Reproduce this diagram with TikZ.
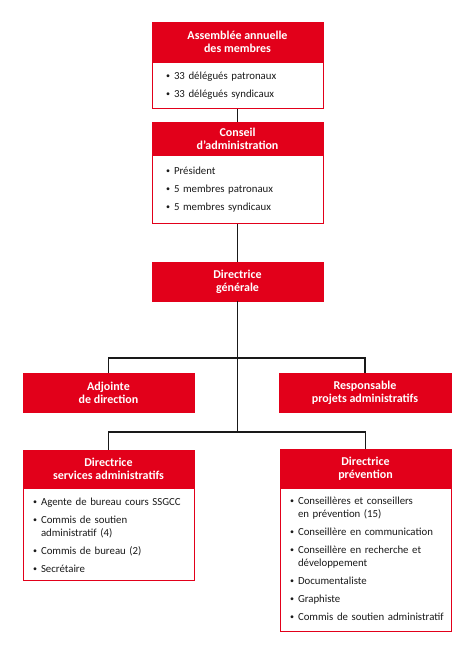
\documentclass[tikz,border=0pt]{standalone}
\usepackage{fontspec}
\setmainfont{Carlito}
\definecolor{orgred}{HTML}{E2001A}
\definecolor{txtgray}{HTML}{1A1A1A}
\newcommand{\smbul}{\makebox[8pt][l]{\raisebox{0.8pt}{\fontsize{8}{8}\selectfont\textbullet}}}
\newcommand{\bulA}[1]{\hyphenpenalty=10000\noindent\hangindent=8pt\hangafter=1\smbul#1}
\newcommand{\bul}[1]{\par\vspace{5pt}\noindent\hangindent=8pt\hangafter=1\smbul#1}
\begin{document}
\begin{tikzpicture}[x=1pt,y=-1pt,
  hdr/.style={fill=orgred,draw=orgred,line width=0.8pt,text=white,font=\fontsize{12}{13}\selectfont\bfseries,align=center,inner sep=0pt,minimum width=#1},
  hdr/.default=171pt,
  bodybox/.style={draw=orgred,line width=0.8pt,fill=white,text=txtgray,font=\fontsize{10.8}{13}\selectfont,align=left,inner ysep=0pt,inner xsep=14pt,text width=#1},
  bodybox/.default=143pt,
  conn/.style={draw=black!90,line width=1.5pt}]
\useasboundingbox (0,0) rectangle (474,656);
\fill[white] (0,0) rectangle (474,656);
% top boxes
\node[hdr,minimum height=40pt] (h1) at (237.5,42) {Assemblée annuelle\\des membres};
\node[bodybox,minimum height=46pt,anchor=north] (b1) at (h1.south) {\bulA{33 délégués patronaux}\bul{33 délégués syndicaux}};
\node[hdr,minimum height=33pt] (h2) at (237.5,138.5) {Conseil\\d’administration};
\node[bodybox,minimum height=68pt,anchor=north] (b2) at (h2.south) {\bulA{Président}\bul{5 membres patronaux}\bul{5 membres syndicaux}};
\node[hdr,minimum height=39pt] (dg) at (237.5,281.5) {Directrice\\générale};
% second level
\node[hdr=171pt,minimum height=39pt] (adj) at (108.5,392.5) {Adjointe\\de direction};
\node[hdr=172pt,minimum height=39pt] (resp) at (365,392.5) {Responsable\\projets administratifs};
% bottom boxes
\node[hdr=171pt,minimum height=38pt] (hl) at (108.5,469) {Directrice\\services administratifs};
\node[bodybox=151pt,inner xsep=10pt,minimum height=92pt,anchor=north] (bl) at (hl.south) {\bulA{Agente de bureau cours SSGCC}\bul{Commis de soutien\newline administratif (4)}\bul{Commis de bureau (2)}\bul{Secrétaire}};
\node[hdr=171pt,minimum height=39pt] (hr) at (365.5,468.5) {Directrice\\prévention};
\node[bodybox=151pt,inner xsep=10pt,minimum height=143pt,anchor=north] (br) at (hr.south) {\bulA{Conseillères et conseillers\newline en prévention (15)}\bul{Conseillère en communication}\bul{Conseillère en recherche et\newline développement}\bul{Documentaliste}\bul{Graphiste}\bul{\mbox{Commis de soutien administratif}}\vspace{4pt}};
% connectors
\coordinate (j1) at (237.5,358);
\coordinate (j2) at (237.5,432);
\draw[conn] (b1.south) -- (h2.north);
\draw[conn] (b2.south) -- (dg.north);
\draw[conn] (dg.south) -- (j2);
\draw[conn] (adj.north) |- (j1) -| (resp.north);
\draw[conn] (hl.north) |- (j2) -| (hr.north);
\end{tikzpicture}
\end{document}
